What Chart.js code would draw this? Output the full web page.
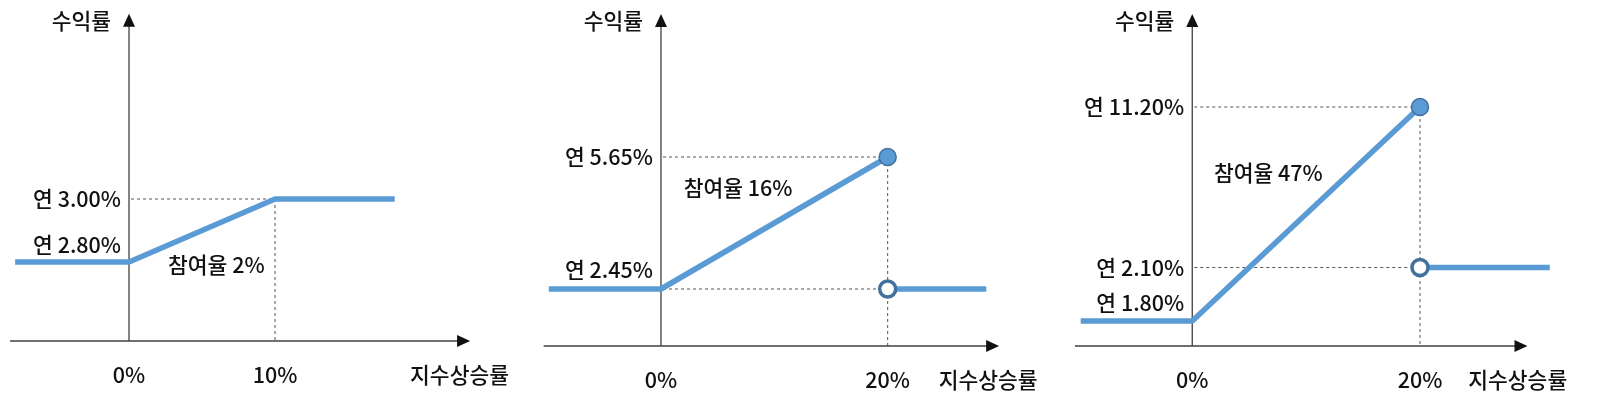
<!DOCTYPE html>
<html><head><meta charset="utf-8">
<script src="https://cdn.jsdelivr.net/npm/chart.js@4/dist/chart.umd.min.js"></script>
<style>
html,body{margin:0;padding:0;background:#fff;width:1600px;height:404px;overflow:hidden}
canvas{position:absolute;left:0;top:0}
</style></head><body>
<canvas id="c1" width="1600" height="404"></canvas>
<canvas id="c2" width="1600" height="404"></canvas>
<canvas id="c3" width="1600" height="404"></canvas>
<script>
// ---- data (index rise % -> annual return %) ----
const p1LineX = [-7.8, 0, 10, 18.2];
const p1LineY = [2.80, 2.80, 3.00, 3.00];
const p1Levels = [3.00, 2.80];
const p1TickX = [0, 10];
const p1TickLabels = ['0%', '10%'];
const p1Rate = '참여율 2%';

const p2LineX = [-9.9, 0, 20];
const p2LineY = [2.45, 2.45, 5.65];
const p2AfterX = [20, 28.7];
const p2AfterY = [2.45, 2.45];
const p2Levels = [5.65, 2.45];
const p2TickX = [0, 20];
const p2TickLabels = ['0%', '20%'];
const p2Rate = '참여율 16%';

const p3LineX = [-9.8, 0, 20];
const p3LineY = [1.80, 1.80, 11.20];
const p3AfterX = [20, 31.4];
const p3AfterY = [2.10, 2.10];
const p3Levels = [11.20, null, null, 2.10, 1.80];
const p3TickX = [0, 20];
const p3TickLabels = ['0%', '20%'];
const p3Rate = '참여율 47%';

const yTitle = '수익률';
const xTitle = '지수상승률';

const lab = v => v === null ? null : '연 ' + v.toFixed(2) + '%';
const catLabels = lvls => lvls.map((v, i) => v === null ? '_' + i : lab(v));
const pts = (xs, ys) => xs.map((x, i) => ({x, y: lab(ys[i])}));

const BLUE = '#5b9bd5', DARK = '#41719c', AX = '#404040';
const FONT = '500 21.5px "Noto Sans CJK KR", "Noto Sans", sans-serif';

const diagram = {
  id: 'diagram',
  beforeDatasetsDraw(chart, a, o) {
    const ctx = chart.ctx, xs = chart.scales.x, ys = chart.scales.y;
    const X = v => xs.getPixelForValue(v);
    const labels = ys.getLabels();
    const YL = v => ys.getPixelForValue(labels.indexOf(lab(v)));
    const YI = i => ys.getPixelForValue(i);
    ctx.save();
    ctx.strokeStyle = '#555'; ctx.lineWidth = 1; ctx.setLineDash([3, 3]);
    o.hGuides.forEach(g => { ctx.beginPath(); ctx.moveTo(X(0) + 2, YL(g.y)); ctx.lineTo(X(g.x), YL(g.y)); ctx.stroke(); });
    ctx.beginPath(); ctx.moveTo(X(o.vGuide.x), YL(o.vGuide.y)); ctx.lineTo(X(o.vGuide.x), YI(o.axisIdx)); ctx.stroke();
    ctx.setLineDash([]);
    ctx.strokeStyle = AX; ctx.fillStyle = '#111'; ctx.lineWidth = 1.3;
    const ay = YI(o.axisIdx), ax = X(0), top = YI(o.topIdx);
    ctx.beginPath(); ctx.moveTo(X(o.axisLeft), ay); ctx.lineTo(X(o.axisRight) - 10, ay); ctx.stroke();
    ctx.beginPath(); ctx.moveTo(X(o.axisRight), ay); ctx.lineTo(X(o.axisRight) - 13, ay - 6); ctx.lineTo(X(o.axisRight) - 13, ay + 6); ctx.closePath(); ctx.fill();
    ctx.beginPath(); ctx.moveTo(ax, ay); ctx.lineTo(ax, top + 10); ctx.stroke();
    ctx.beginPath(); ctx.moveTo(ax, top); ctx.lineTo(ax - 6, top + 13); ctx.lineTo(ax + 6, top + 13); ctx.closePath(); ctx.fill();
    ctx.restore();
  },
  afterDatasetsDraw(chart, a, o) {
    const ctx = chart.ctx, xs = chart.scales.x, ys = chart.scales.y;
    const X = v => xs.getPixelForValue(v);
    const labels = ys.getLabels();
    const YL = v => ys.getPixelForValue(labels.indexOf(lab(v)));
    const YI = i => ys.getPixelForValue(i);
    const ay = YI(o.axisIdx), ax = X(0), top = YI(o.topIdx);
    ctx.save();
    ctx.font = FONT; ctx.fillStyle = '#111'; ctx.textBaseline = 'middle';
    ctx.textAlign = 'right';
    o.levels.forEach((v, i) => { if (v !== null) ctx.fillText(lab(v), ax - 8, YL(v) + (o.levelDy[i] || 0)); });
    ctx.fillText(yTitle, ax - 18, top + 7);
    ctx.textAlign = 'center';
    o.tickX.forEach((t, i) => ctx.fillText(o.tickLabels[i], X(t), ay + 34));
    ctx.textAlign = 'left';
    ctx.fillText(xTitle, X(o.xTitleX), ay + 34);
    ctx.fillText(o.rate.text, X(o.rate.x), YL(o.rate.y) + o.rate.dy);
    ctx.restore();
  }
};

function make(id, cfg) {
  const datasets = [
    {data: pts(cfg.lineX, cfg.lineY), order: 2, borderColor: BLUE, borderWidth: 5.5, pointRadius: 0, clip: false, borderCapStyle: 'butt', borderJoinStyle: 'round'}
  ];
  if (cfg.afterX) {
    datasets.push({data: pts(cfg.afterX, cfg.afterY), order: 2, borderColor: BLUE, borderWidth: 5.5, pointRadius: 0, clip: false});
    datasets.push({data: [{x: cfg.afterX[0], y: lab(cfg.afterY[0])}], order: 0, showLine: false, pointRadius: 8, pointBackgroundColor: '#fff', pointBorderColor: DARK, pointBorderWidth: 3.5, clip: false});
    const n = cfg.lineX.length - 1;
    datasets.push({data: [{x: cfg.lineX[n], y: lab(cfg.lineY[n])}], order: 0, showLine: false, pointRadius: 8.5, pointBackgroundColor: BLUE, pointBorderColor: DARK, pointBorderWidth: 1.5, clip: false});
  }
  new Chart(document.getElementById(id), {
    type: 'line',
    data: {datasets},
    options: {
      responsive: false, animation: false, events: [],
      layout: {padding: {top: cfg.padTop, bottom: cfg.padBottom, left: 0, right: 0}},
      scales: {
        x: {type: 'linear', min: cfg.xMin, max: cfg.xMax, display: false},
        y: {type: 'category', labels: catLabels(cfg.levels), display: false, offset: false}
      },
      plugins: {legend: {display: false}, tooltip: {enabled: false}, diagram: cfg.diag}
    },
    plugins: [diagram]
  });
}

make('c1', {
  lineX: p1LineX, lineY: p1LineY, levels: p1Levels,
  padTop: 199, padBottom: 142, xMin: -8.836, xMax: 100.75,
  diag: {levels: p1Levels, levelDy: [0, -17], axisIdx: 2.254, topIdx: -2.94, axisLeft: -8.15, axisRight: 23.36,
    hGuides: [{x: 10, y: 3.00}], vGuide: {x: 10, y: 3.00},
    tickX: p1TickX, tickLabels: p1TickLabels, xTitleX: 19.25,
    rate: {text: p1Rate, x: 2.67, y: 2.80, dy: 3}}
});
make('c2', {
  lineX: p2LineX, lineY: p2LineY, afterX: p2AfterX, afterY: p2AfterY, levels: p2Levels,
  padTop: 157, padBottom: 115, xMin: -57.3, xMax: 81.83,
  diag: {levels: p2Levels, levelDy: [0, -19], axisIdx: 1.432, topIdx: -1.083, axisLeft: -10.35, axisRight: 29.83,
    hGuides: [{x: 20, y: 5.65}, {x: 20, y: 2.45}], vGuide: {x: 20, y: 5.65},
    tickX: p2TickX, tickLabels: p2TickLabels, xTitleX: 24.5,
    rate: {text: p2Rate, x: 2.0, y: 5.65, dy: 31}}
});
make('c3', {
  lineX: p3LineX, lineY: p3LineY, afterX: p3AfterX, afterY: p3AfterY, levels: p3Levels,
  padTop: 107, padBottom: 83, xMin: -103.7, xMax: 34.8,
  diag: {levels: p3Levels, levelDy: [0, 0, 0, 0, -18], axisIdx: 4.467, topIdx: -1.738, axisLeft: -10.3, axisRight: 29.44,
    hGuides: [{x: 20, y: 11.20}, {x: 20, y: 2.10}], vGuide: {x: 20, y: 11.20},
    tickX: p3TickX, tickLabels: p3TickLabels, xTitleX: 24.24,
    rate: {text: p3Rate, x: 1.9, y: 11.20, dy: 66}}
});
</script>
</body></html>
